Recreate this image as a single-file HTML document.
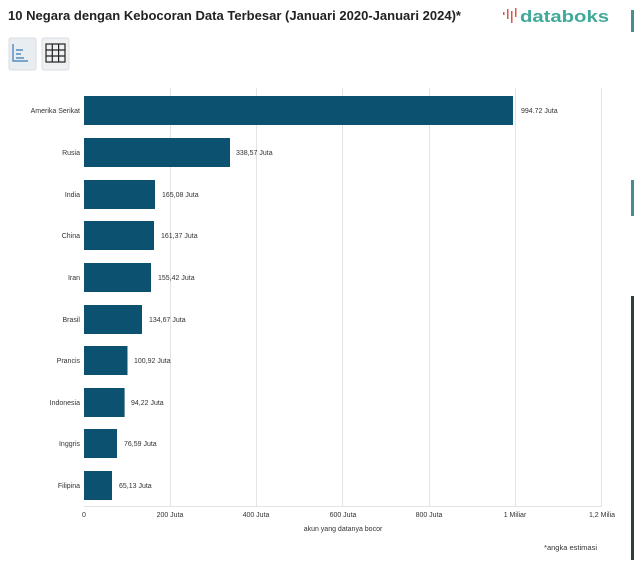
<!DOCTYPE html>
<html><head><meta charset="utf-8"><style>
body{margin:0;width:634px;height:560px;background:#fff;overflow:hidden;font-family:"Liberation Sans",sans-serif;}
</style></head><body>
<svg width="634" height="560" xmlns="http://www.w3.org/2000/svg" font-family="Liberation Sans, sans-serif">
<text x="8" y="20" font-size="13" font-weight="bold" fill="#222" textLength="453" lengthAdjust="spacingAndGlyphs">10 Negara dengan Kebocoran Data Terbesar (Januari 2020-Januari 2024)*</text>
<g fill="#d9584a"><rect x="503" y="12" width="1.5" height="3"/><rect x="507" y="9" width="1.5" height="10"/><rect x="511" y="11" width="1.5" height="12"/><rect x="515" y="8" width="1.5" height="9"/></g>
<text x="520" y="22" font-size="17" font-weight="bold" fill="#3fa99a" textLength="89" lengthAdjust="spacingAndGlyphs">databoks</text>
<rect x="631" y="10" width="3" height="22" fill="#4a8a92"/>
<rect x="631" y="180" width="3" height="36" fill="#4a8a92"/>
<rect x="631" y="296" width="3" height="264" fill="#2e3d40"/>
<rect x="9" y="38" width="27" height="32" rx="2" fill="#e8edf2" stroke="#d8dde2"/>
<path d="M13 44 v17 h15" stroke="#3a78b5" stroke-width="1.2" fill="none"/>
<path d="M16 50 h7 M16 54 h5 M16 58 h8" stroke="#3a78b5" stroke-width="1.2"/>
<rect x="42" y="38" width="27" height="32" rx="2" fill="#eef0f2" stroke="#d8dde2"/>
<g stroke="#222" stroke-width="1.2" fill="none"><rect x="46" y="44" width="19" height="18"/><path d="M52.3 44v18M58.6 44v18M46 50h19M46 56h19"/></g>
<g stroke="#e3e3e3" stroke-width="1">
<line x1="170.5" y1="88" x2="170.5" y2="506"/><line x1="256.5" y1="88" x2="256.5" y2="506"/><line x1="342.5" y1="88" x2="342.5" y2="506"/><line x1="429.5" y1="88" x2="429.5" y2="506"/><line x1="515.5" y1="88" x2="515.5" y2="506"/><line x1="601.5" y1="88" x2="601.5" y2="506"/>
<line x1="84" y1="506.5" x2="602" y2="506.5"/>
</g>
<g fill="#0d5170">
<rect x="84" y="96" width="429" height="29"/>
<rect x="84" y="138" width="146" height="29"/>
<rect x="84" y="180" width="71" height="29"/>
<rect x="84" y="221" width="70" height="29"/>
<rect x="84" y="263" width="67" height="29"/>
<rect x="84" y="305" width="58" height="29"/>
<rect x="84" y="346" width="43.5" height="29"/>
<rect x="84" y="388" width="40.6" height="29"/>
<rect x="84" y="429" width="33" height="29"/>
<rect x="84" y="471" width="28" height="29"/>
</g>
<g font-size="7" fill="#333" text-anchor="end">
<text x="80" y="113">Amerika Serikat</text><text x="80" y="155">Rusia</text><text x="80" y="197">India</text><text x="80" y="238">China</text><text x="80" y="280">Iran</text><text x="80" y="322">Brasil</text><text x="80" y="363">Prancis</text><text x="80" y="405">Indonesia</text><text x="80" y="446">Inggris</text><text x="80" y="488">Filipina</text>
</g>
<g font-size="7" fill="#333">
<text x="521" y="113">994.72 Juta</text><text x="236" y="155">338,57 Juta</text><text x="162" y="197">165,08 Juta</text><text x="161" y="238">161,37 Juta</text><text x="158" y="280">155,42 Juta</text><text x="149" y="322">134,67 Juta</text><text x="134" y="363">100,92 Juta</text><text x="131" y="405">94,22 Juta</text><text x="124" y="446">76,59 Juta</text><text x="119" y="488">65,13 Juta</text>
</g>
<g font-size="7" fill="#333" text-anchor="middle">
<text x="84" y="517">0</text><text x="170" y="517">200 Juta</text><text x="256" y="517">400 Juta</text><text x="343" y="517">600 Juta</text><text x="429" y="517">800 Juta</text><text x="515" y="517">1 Miliar</text><text x="602" y="517">1,2 Milia</text>
<text x="343" y="531">akun yang datanya bocor</text>
</g>
<text x="597" y="550" font-size="7.5" fill="#333" text-anchor="end">*angka estimasi</text>
</svg>
</body></html>
